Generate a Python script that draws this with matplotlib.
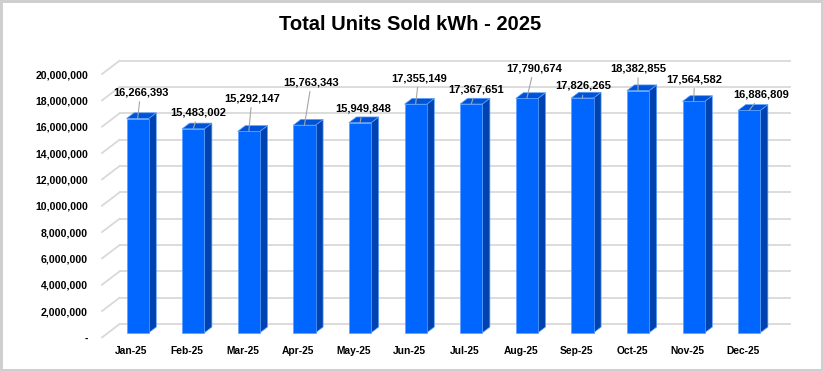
import matplotlib
matplotlib.use("Agg")
import numpy as np
from matplotlib import pyplot as plt
from matplotlib.patches import Polygon

# Data
months = ["Jan-25", "Feb-25", "Mar-25", "Apr-25", "May-25", "Jun-25",
          "Jul-25", "Aug-25", "Sep-25", "Oct-25", "Nov-25", "Dec-25"]
units_sold = [16266393, 15483002, 15292147, 15763343, 15949848, 17355149,
              17367651, 17790674, 17826265, 18382855, 17564582, 16886809]
y_ticks = [0, 2000000, 4000000, 6000000, 8000000, 10000000,
           12000000, 14000000, 16000000, 18000000, 20000000]

# label offsets from the bar top (pixels, x right / y up)
label_offsets = [(3, 26), (5, 16), (3, 33), (7, 43), (3, 14), (3, 26),
                 (5, 15), (7, 30), (1, 12), (0, 22), (1, 22), (12, 16)]

# colours
FRONT = "#0066FF"
SIDE = "#0042B0"
TOP = "#0052D6"
EDGE = "#5AA0FF"
GRID = "#D9D9D9"

# pseudo-3d depth (in data units)
wall_dx, wall_dy = 0.315, 1.01e6
bar_off = 0.35     # fraction of depth where the bar front sits
bar_depth = 0.43   # fraction of depth the bar occupies
bar_w = 0.40

W, H = 823, 371
fig = plt.figure(figsize=(W / 100, H / 100), dpi=100)
fig.patch.set_facecolor("white")
fig.patch.set_edgecolor("#CFCFCF")
fig.patch.set_linewidth(2.5)

# axes placed so the front plane matches the reference
left_px, right_px, bottom_px, top_px = 95, 800, 337.4, 50
ax = fig.add_axes([left_px / W, 1 - bottom_px / H,
                   (right_px - left_px) / W, (bottom_px - top_px) / H])
px_x = 55.6            # pixels per category
px_y = 13.17e-6        # pixels per unit
ax.set_xlim((left_px - 131.5) / px_x, (right_px - 131.5) / px_x)
ax.set_ylim(0, (bottom_px - top_px) / px_y)

x = np.arange(len(months))
vals = np.array(units_sold, dtype=float)

# back wall gridlines + diagonals on the left side wall
x_front_l, x_front_r = -0.53, 11.53
for t in y_ticks:
    ax.plot([x_front_l + wall_dx, x_front_r + wall_dx], [t + wall_dy, t + wall_dy],
            color=GRID, lw=1.3, zorder=1, clip_on=False)
    ax.plot([x_front_l, x_front_l + wall_dx], [t, t + wall_dy],
            color=GRID, lw=1.3, zorder=1, clip_on=False)

# bars
dx0, dy0 = bar_off * wall_dx, bar_off * wall_dy
ddx, ddy = bar_depth * wall_dx, bar_depth * wall_dy
xc = x + dx0
for xi, v in zip(xc, vals):
    r = xi + bar_w / 2
    l = xi - bar_w / 2
    side = [(r, dy0), (r + ddx, dy0 + ddy), (r + ddx, dy0 + v + ddy), (r, dy0 + v)]
    top = [(l, dy0 + v), (r, dy0 + v), (r + ddx, dy0 + v + ddy), (l + ddx, dy0 + v + ddy)]
    ax.add_patch(Polygon(side, closed=True, facecolor=SIDE, edgecolor=EDGE,
                         lw=0.5, zorder=2))
    ax.add_patch(Polygon(top, closed=True, facecolor=TOP, edgecolor=EDGE,
                         lw=0.5, zorder=2))
ax.bar(xc, vals, width=bar_w, bottom=dy0, color=FRONT, edgecolor=EDGE,
       linewidth=0.5, zorder=3)

# data labels with leader lines
for xi, v, (ox, oy) in zip(xc, vals, label_offsets):
    ax.annotate(f"{v:,.0f}", xy=(xi, dy0 + v), xytext=(ox, oy),
                textcoords="offset pixels", ha="center", va="center",
                fontsize=8, fontweight="bold", color="black",
                family="Liberation Sans", zorder=5,
                arrowprops=dict(arrowstyle="-", color="#A6A6A6", lw=0.8,
                                shrinkA=1, shrinkB=0))

# axes styling
ax.set_yticks(y_ticks)
ax.set_yticklabels(["-" if t == 0 else f"{t:,.0f}" for t in y_ticks])
ax.set_xticks(x)
ax.set_xticklabels(months)
ax.tick_params(axis="y", length=0, pad=5, labelsize=7.6)
ax.tick_params(axis="x", length=0, pad=6.5, labelsize=7.4)
for lab in ax.get_xticklabels() + ax.get_yticklabels():
    lab.set_fontweight("bold")
    lab.set_family("Liberation Sans")
for s in ax.spines.values():
    s.set_visible(False)
ax.patch.set_alpha(0)

fig.text(410.5 / W, 1 - 25 / H, "Total Units Sold kWh - 2025", ha="center",
         va="center", fontsize=14.5, fontweight="bold", family="Liberation Sans")

fig.savefig("out.png", dpi=100, facecolor=fig.get_facecolor(),
            edgecolor=fig.get_edgecolor())
